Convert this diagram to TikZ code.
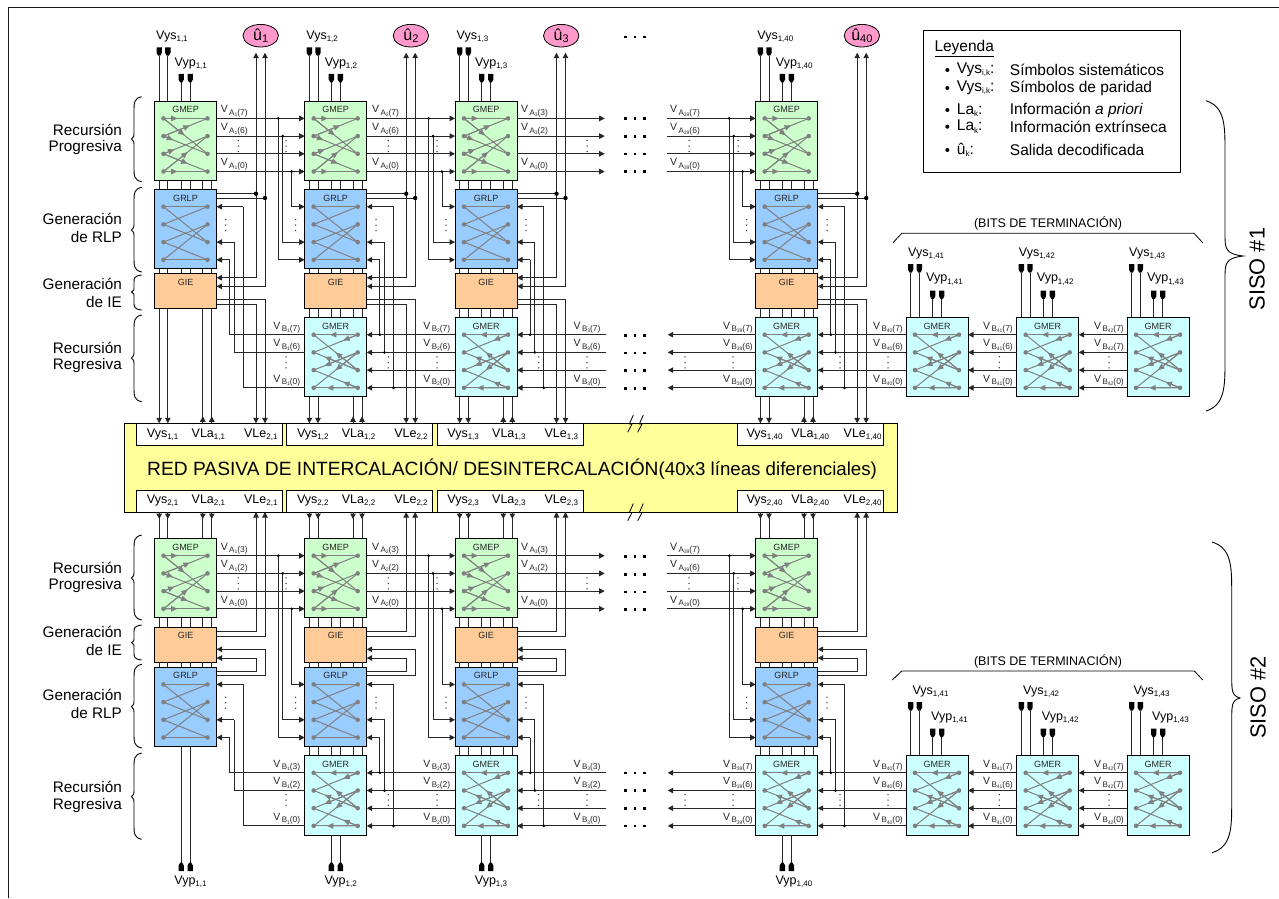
\documentclass[tikz,border=0pt]{standalone}
\usepackage{fontspec}
\setmainfont{Liberation Sans}
\usetikzlibrary{arrows.meta,calc,shapes.geometric}

\definecolor{verdeG}{HTML}{CCFFCC}
\definecolor{azulG}{HTML}{99CCFF}
\definecolor{naranjaG}{HTML}{FFCC99}
\definecolor{cianG}{HTML}{CCFFFF}
\definecolor{amarilloG}{HTML}{FFFF99}
\definecolor{rosaG}{HTML}{FF99CC}
\definecolor{grisG}{HTML}{808080}

\newcommand{\tam}[1]{\fontsize{#1}{#1}\selectfont}
\newcommand{\subi}[1]{\raisebox{-2.2pt}{\tam{8}#1}}
\newcommand{\vind}[3]{{\tam{10.5}V}\raisebox{-2.6pt}{\tam{8}\,#1\raisebox{-1.2pt}{\tam{5}#2}\tam{8.5}(#3)}}

\tikzset{
  caja/.style={draw=black,line width=.9pt,anchor=north west,inner sep=0pt,outer sep=0pt,minimum width=62pt},
  gmep/.style={fill=verdeG},
  grlp/.style={fill=azulG},
  giebox/.style={fill=naranjaG},
  gmer/.style={fill=cianG},
  titulo/.style={font=\tam{9},inner sep=0pt,text=black!85},
  cable/.style={line width=1pt,black!85},
  flecha/.style={-{Triangle[length=5.5pt,width=5.5pt]}},
  rama/.style={draw=grisG,line width=1pt},
  puntagris/.style={-{Triangle[length=6.5pt,width=5.5pt]}},
  texto/.style={font=\tam{12.5},inner sep=0pt,anchor=west},
  lateral/.style={font=\tam{15.3},inner sep=0pt,anchor=east},
  etiq/.style={inner sep=0pt,yshift=5.7pt,text=black!85},
  blanca/.style={draw=black,line width=.9pt,fill=white,anchor=north west,inner sep=0pt,outer sep=0pt,minimum width=146pt,minimum height=22pt},
  leyenda/.style={font=\tam{15.5},inner sep=0pt,anchor=west},
}

% caja con titulo y patillas
\newcommand{\caja}[6]{%
  \node[caja,#2,minimum height=#6pt] (#1) at (#4,#5) {};
  \node[titulo] (#1-tit) at (#4+31,#5+8.7) {#3};
  \foreach \i/\dx in {1/4.7,2/13.3,3/26.7,4/35.7,5/48.3,6/57.3}{
    \coordinate (#1-t\i) at (#4+\dx,#5);
    \coordinate (#1-d\i) at (#4+\dx,#5+#6);
  }}

% bloque de cuatro filas
\newcommand{\bloque}[5]{%
  \caja{#1}{#2}{#3}{#4}{#5}{79.6}
  \foreach \i/\dy in {1/17.4,2/35.1,3/52.8,4/70.5}{
    \coordinate (#1-e\i) at (#4,#5+\dy);
    \coordinate (#1-s\i) at (#4+62,#5+\dy);
    \coordinate (#1-a\i) at (#4+9,#5+\dy);
    \coordinate (#1-b\i) at (#4+53,#5+\dy);
    \fill[grisG] (#1-a\i) circle (2.3pt) (#1-b\i) circle (2.3pt);
  }
  \coordinate (#1-j1) at (#4-26.4,#5+17.4);
  \coordinate (#1-j2) at (#4-22,#5+35.1);
  \coordinate (#1-j4) at (#4-13,#5+70.5);
  \coordinate (#1-k1) at (#4+88.8,#5+17.4);
  \coordinate (#1-k3) at (#4+79.8,#5+52.8);
  \coordinate (#1-k4) at (#4+75.2,#5+70.5);
  \coordinate (#1-h1) at (#4+62,#5+4.4);
  \coordinate (#1-h2) at (#4+62,#5+8.7);
}

\newcommand{\ramasP}[1]{\foreach \p/\q/\f in {1/1/.32,1/3/.48,2/1/.6,2/3/.22,3/2/.25,3/4/.55,4/2/.55,4/4/.32}{
    \draw[rama] (#1-a\p) -- (#1-b\q);
    \draw[rama,puntagris] (#1-a\p) -- ($(#1-a\p)!\f!(#1-b\q)$);
  }}
\newcommand{\ramasL}[1]{\foreach \p/\q in {1/1,1/3,2/1,2/3,3/2,3/4,4/2,4/4}{
    \draw[rama] (#1-a\p) -- (#1-b\q);
  }}
\newcommand{\ramasR}[1]{\foreach \p/\q/\f in {1/1/.63,1/3/.5,2/1/.33,2/3/.75,3/2/.75,3/4/.33,4/2/.5,4/4/.7}{
    \draw[rama] (#1-a\p) -- (#1-b\q);
    \draw[rama,puntagris] (#1-b\q) -- ($(#1-b\q)!\f!(#1-a\p)$);
  }}

% tres etiquetas de una columna
\newcommand{\etiqs}[8]{%
  \node[etiq,anchor=base #5] (#1-#2#3-v1) at (#4,0 |- #1-e1) {\vind{#2}{#3}{#6}};
  \node[etiq,anchor=base #5] (#1-#2#3-v2) at (#4,0 |- #1-e2) {\vind{#2}{#3}{#7}};
  \node[etiq,anchor=base #5] (#1-#2#3-v4) at (#4,0 |- #1-e4) {\vind{#2}{#3}{#8}};
}

% puntos suspensivos y conectores
\newcommand{\vpts}[2]{\foreach \k in {-5.5,0,5.5}{\fill[black!80] (#1,#2+\k) circle (.75pt);}}
\newcommand{\hpts}[1]{\foreach \k in {625.7,635,644.3}{\fill (\k-1.3,#1-1.3) rectangle (\k+1.3,#1+1.3);}}
\newcommand{\clavija}[1]{\fill (#1) ++(-2.7,-8.4) -- ++(5.4,0) -- ++(0,5.6) -- ++(-1.6,2.8) -- ++(-2.2,0) -- ++(-1.6,-2.8) -- cycle;}
\newcommand{\clavijaB}[1]{\fill (#1) ++(-1.1,0) -- ++(2.2,0) -- ++(1.6,2.8) -- ++(0,5.6) -- ++(-5.4,0) -- ++(0,-5.6) -- cycle;}
\newcommand{\llave}[8]{\draw[line width=.9pt] (#1,#4) .. controls (#2,#4+.12*#7) and (#2,#4+.5*#7) .. (#2,#4+#7) -- (#2,#5-#8)
  .. controls (#2,#5-.35*#8) and (#2,#5-.1*#8) .. (#3,#5) .. controls (#2,#5+.1*#8) and (#2,#5+.35*#8) .. (#2,#5+#8)
  -- (#2,#6-#7) .. controls (#2,#6-.5*#7) and (#2,#6-.12*#7) .. (#1,#6);}

\begin{document}
\begin{tikzpicture}[x=1pt,y=-1pt]
\useasboundingbox (0,0) rectangle (1279,898);

% Marco
\draw[black!90,line width=1pt] (8,898) -- (8,7.5) -- (1279,7.5);

% Red de intercalacion
\node[caja,fill=amarilloG,minimum width=773.3pt,minimum height=88.7pt] (bus) at (124,423.3) {};
\node[inner sep=0pt,anchor=base west,font=\tam{19.2}] (bustxt) at (147,475) {RED PASIVA DE INTERCALACIÓN/ DESINTERCALACIÓN};
\node[inner sep=0pt,anchor=base west,font=\tam{18.7}] (bustxtb) at (658.5,475) {(40x3 líneas diferenciales)};
\foreach \col/\x/\desp/\idx in {1/154.5/0/2,2/304.7/0/2,3/455/0/1,40/755.7/1.6/1}{
  \node[blanca] (arr-\col) at (\x-17.8,423.3) {};
  \node[blanca] (aba-\col) at (\x-17.8,490) {};
  \node[texto] (vys-a-\col) at (\x-7.8-\desp,435) {Vys\subi{1,\col}};
  \node[texto] (vla-a-\col) at (\x+37-\desp,435) {VLa\subi{1,\col}};
  \node[texto] (vle-a-\col) at (\x+89.4-\desp,435) {VLe\subi{\idx,\col}};
  \node[texto] (vys-b-\col) at (\x-7.8-\desp,501) {Vys\subi{2,\col}};
  \node[texto] (vla-b-\col) at (\x+37-\desp,501) {VLa\subi{2,\col}};
  \node[texto] (vle-b-\col) at (\x+89.4-\desp,501) {VLe\subi{2,\col}};
}
\foreach \x in {633.3,643.3}{
  \foreach \y in {415,503.5}{
    \draw[line width=.8pt] (\x,\y) -- (\x-4,\y+9) -- (\x-1.3,\y+9) -- (\x-5.6,\y+17.3);
  }
}

% Bloques SISO 1
\foreach \col/\x in {1/154.5,2/304.7,3/455,40/755.7}{
  \bloque{gmep-1-\col}{gmep}{GMEP}{\x}{101}
  \ramasP{gmep-1-\col}
  \bloque{grlp-1-\col}{grlp}{GRLP}{\x}{189.3}
  \ramasL{grlp-1-\col}
  \caja{gie-1-\col}{giebox}{GIE}{\x}{273.3}{35.4}
  \foreach \i/\dy in {1/4.4,2/13,3/26.4,4/30.8}{\coordinate (gie-1-\col-p\i) at (\x+62,273.3+\dy);}
  \coordinate (u-\col-a) at (\x+101.5,52.7);
  \coordinate (u-\col-b) at (\x+110.5,52.7);
  \foreach \i in {1,...,6}{
    \draw[cable] (gmep-1-\col-d\i) -- (grlp-1-\col-t\i);
    \draw[cable] (grlp-1-\col-d\i) -- (gie-1-\col-t\i);
  }
}
\foreach \col/\x in {2/304.7,3/455,40/755.7}{
  \bloque{gmer-1-\col}{gmer}{GMER}{\x}{317.3}
  \ramasR{gmer-1-\col}
  \foreach \i in {1,...,6}{\draw[cable] (gie-1-\col-d\i) -- (gmer-1-\col-t\i);}
}

% Bloques SISO 2
\foreach \col/\x in {1/154.5,2/304.7,3/455,40/755.7}{
  \bloque{gmep-2-\col}{gmep}{GMEP}{\x}{538.3}
  \ramasP{gmep-2-\col}
  \caja{gie-2-\col}{giebox}{GIE}{\x}{627}{35.4}
  \foreach \i/\dy in {1/4,2/9,3/22.3,4/31}{\coordinate (gie-2-\col-p\i) at (\x+62,627+\dy);}
  \bloque{grlp-2-\col}{grlp}{GRLP}{\x}{667}
  \ramasL{grlp-2-\col}
  \foreach \i in {1,...,6}{
    \draw[cable] (gmep-2-\col-d\i) -- (gie-2-\col-t\i);
    \draw[cable] (gie-2-\col-d\i) -- (grlp-2-\col-t\i);
  }
}
\foreach \col/\x in {2/304.7,3/455,40/755.7}{
  \bloque{gmer-2-\col}{gmer}{GMER}{\x}{755.4}
  \ramasR{gmer-2-\col}
  \foreach \i in {1,...,6}{\draw[cable] (grlp-2-\col-d\i) -- (gmer-2-\col-t\i);}
}

% Bits de terminacion
\foreach \s/\ye/\da/\db in {1/317.3/2/20,2/755.4/6.3/25}{
  \foreach \col/\x in {41/906,42/1016.7,43/1127}{
    \bloque{gmer-\s-\col}{gmer}{GMER}{\x}{\ye}
    \ramasR{gmer-\s-\col}
    \node[texto] (vys-\s-\col) at (\x+\da,\ye-63.5) {Vys\subi{1,\col}};
    \node[texto] (vyp-\s-\col) at (\x+\db,\ye-38) {Vyp\subi{1,\col}};
    \coordinate (pv-\s-\col-1) at (\x+4.7,\ye-44.8);
    \coordinate (pv-\s-\col-2) at (\x+13.3,\ye-44.8);
    \coordinate (pv-\s-\col-3) at (\x+26.7,\ye-18.3);
    \coordinate (pv-\s-\col-4) at (\x+35.7,\ye-18.3);
    \foreach \i in {1,...,4}{
      \draw[cable] (pv-\s-\col-\i) -- (gmer-\s-\col-t\i);
      \clavija{pv-\s-\col-\i}
    }
  }
}
\draw[line width=.8pt] (893,242.7) -- (901.7,233.3) -- (1194,233.3) -- (1202.7,242.7);
\node[inner sep=0pt,font=\tam{12.5}] (bits-1) at (1048,223) {(BITS DE TERMINACIÓN)};
\draw[line width=.8pt] (892.3,680) -- (901.7,671) -- (1194.3,671) -- (1202.7,680);
\node[inner sep=0pt,font=\tam{12.5}] (bits-2) at (1048,661.7) {(BITS DE TERMINACIÓN)};

% Cables horizontales y bajadas
\foreach \s in {1,2}{
  \foreach \ant/\sig in {1/2,2/3}{
    \foreach \i in {1,...,4}{\draw[cable,flecha] (gmep-\s-\ant-s\i) -- (gmep-\s-\sig-e\i);}
  }
  \foreach \i in {1,...,4}{
    \draw[cable,flecha] (gmep-\s-3-s\i) -- (604.7,0 |- gmep-\s-3-s\i);
    \draw[cable,flecha] (667.3,0 |- gmep-\s-40-e\i) -- (gmep-\s-40-e\i);
    \draw[cable,flecha] (605.7,0 |- gmer-\s-3-s\i) -- (gmer-\s-3-s\i);
    \draw[cable,flecha] (gmer-\s-40-e\i) -- (667.7,0 |- gmer-\s-40-e\i);
  }
  \foreach \ant/\sig in {2/3,40/41,41/42,42/43}{
    \foreach \i in {1,...,4}{\draw[cable,flecha] (gmer-\s-\sig-e\i) -- (gmer-\s-\ant-s\i);}
  }
  % entradas de GRLP desde GMEP
  \foreach \col in {2,3,40}{
    \draw[cable,flecha] (gmep-\s-\col-j1) |- (grlp-\s-\col-e4);
    \draw[cable,flecha] (gmep-\s-\col-j2) |- (grlp-\s-\col-e3);
    \draw[cable,flecha] (gmep-\s-\col-j4) |- (grlp-\s-\col-e1);
    \fill (gmep-\s-\col-j1) circle (1.5pt) (gmep-\s-\col-j2) circle (1.5pt) (gmep-\s-\col-j4) circle (1.5pt);
  }
  % entradas de GRLP desde GMER
  \foreach \col in {1,2,3,40}{
    \draw[cable,flecha] (grlp-\s-\col-k1) -- (grlp-\s-\col-s1);
    \draw[cable,flecha] (grlp-\s-\col-k3) -- (grlp-\s-\col-s3);
    \draw[cable,flecha] (grlp-\s-\col-k4) -- (grlp-\s-\col-s4);
  }
  \draw[cable] (gmer-\s-2-e1) -| (grlp-\s-1-k4);
  \draw[cable] (gmer-\s-2-e2) -| (grlp-\s-1-k3);
  \draw[cable] (gmer-\s-2-e4) -| (grlp-\s-1-k1);
  \foreach \col in {2,3,40}{
    \draw[cable] (grlp-\s-\col-k4) -- (grlp-\s-\col-k4 |- gmer-\s-\col-s1);
    \draw[cable] (grlp-\s-\col-k3) -- (grlp-\s-\col-k3 |- gmer-\s-\col-s2);
    \draw[cable] (grlp-\s-\col-k1) -- (grlp-\s-\col-k1 |- gmer-\s-\col-s4);
    \fill (grlp-\s-\col-k4 |- gmer-\s-\col-s1) circle (1.5pt);
    \fill (grlp-\s-\col-k3 |- gmer-\s-\col-s2) circle (1.5pt);
    \fill (grlp-\s-\col-k1 |- gmer-\s-\col-s4) circle (1.5pt);
  }
}

% Salidas y entradas del SISO 1
\foreach \col/\x/\fuente in {1/154.5/gie,2/304.7/gmer,3/455/gmer,40/755.7/gmer}{
  \draw[cable] (grlp-1-\col-h1) -- (u-\col-a |- grlp-1-\col-h1);
  \draw[cable] (grlp-1-\col-h2) -- (u-\col-b |- grlp-1-\col-h2);
  \draw[cable,flecha] (u-\col-a |- grlp-1-\col-h1) -- (u-\col-a);
  \draw[cable,flecha] (u-\col-b |- grlp-1-\col-h2) -- (u-\col-b);
  \draw[cable,flecha] (u-\col-a |- grlp-1-\col-h1) |- (gie-1-\col-p1);
  \draw[cable,flecha] (u-\col-b |- grlp-1-\col-h2) |- (gie-1-\col-p2);
  \fill (u-\col-a |- grlp-1-\col-h1) circle (2.2pt) (u-\col-b |- grlp-1-\col-h2) circle (2.2pt);
  \draw[cable,flecha] (gie-1-\col-p3) -| (u-\col-b |- bus.north);
  \draw[cable,flecha] (gie-1-\col-p4) -| (u-\col-a |- bus.north);
  \draw[cable,flecha] (\fuente-1-\col-d1) -- (\fuente-1-\col-d1 |- bus.north);
  \draw[cable,flecha] (\fuente-1-\col-d2) -- (\fuente-1-\col-d2 |- bus.north);
  \draw[cable] (\fuente-1-\col-d5) -- (\fuente-1-\col-d5 |- bus.north);
  \draw[cable] (\fuente-1-\col-d6) -- (\fuente-1-\col-d6 |- bus.north);
  \draw[cable,flecha] (\fuente-1-\col-d5 |- bus.north) -- ++(0,-7);
  \draw[cable,flecha] (\fuente-1-\col-d6 |- bus.north) -- ++(0,-7);
  % entradas superiores
  \coordinate (pv-\col-1) at (\x+4.7,55.7);
  \coordinate (pv-\col-2) at (\x+13.3,55.7);
  \coordinate (pv-\col-3) at (\x+26.7,82.3);
  \coordinate (pv-\col-4) at (\x+35.7,82.3);
  \foreach \i in {1,...,4}{
    \draw[cable] (pv-\col-\i) -- (gmep-1-\col-t\i);
    \clavija{pv-\col-\i}
  }
  \node[texto] (vys-sup-\col) at (\x+1.5,36.7) {Vys\subi{1,\col}};
  \node[texto] (vyp-sup-\col) at (\x+20,64) {Vyp\subi{1,\col}};
  \node[draw=black,line width=.8pt,fill=rosaG,shape=ellipse,inner sep=0pt,minimum width=35.4pt,minimum height=22.6pt] (uhat-\col) at (\x+106.2,35.7) {\tam{16}û\raisebox{-2.5pt}{\tam{11}\col}};
}

% Salidas y entradas del SISO 2
\foreach \col/\x/\fuente in {1/154.5/grlp,2/304.7/gmer,3/455/gmer,40/755.7/gmer}{
  \draw[cable,flecha] (gie-2-\col-p1) -| (u-\col-a |- bus.south);
  \draw[cable,flecha] (gie-2-\col-p2) -| (u-\col-b |- bus.south);
  \draw[cable,flecha] (grlp-2-\col-h1) -| (u-\col-a |- gie-2-\col-p4) -- (gie-2-\col-p4);
  \draw[cable,flecha] (grlp-2-\col-h2) -| (u-\col-b |- gie-2-\col-p3) -- (gie-2-\col-p3);
  \foreach \i in {1,2,5,6}{
    \draw[cable] (gmep-2-\col-t\i |- bus.south) -- (gmep-2-\col-t\i);
    \draw[cable,flecha] (gmep-2-\col-t\i |- bus.south) -- ++(0,7);
  }
  % salidas inferiores
  \coordinate (pw-\col-3) at (\x+26.7,862.7);
  \coordinate (pw-\col-4) at (\x+35.7,862.7);
  \foreach \i in {3,4}{
    \draw[cable] (\fuente-2-\col-d\i) -- (pw-\col-\i);
    \clavijaB{pw-\col-\i}
  }
  \node[texto] (vyp-inf-\col) at (\x+19.7,881.7) {Vyp\subi{1,\col}};
}

% Etiquetas de los cables
\etiqs{gmep-1-1}{A}{1}{220.7}{west}{7}{6}{0}
\etiqs{gmep-1-2}{A}{2}{372}{west}{7}{6}{0}
\etiqs{gmep-1-3}{A}{3}{521}{west}{3}{2}{0}
\etiqs{gmep-1-40}{A}{39}{670}{west}{7}{6}{0}
\etiqs{gmep-2-1}{A}{1}{220.7}{west}{3}{2}{0}
\etiqs{gmep-2-2}{A}{2}{372}{west}{3}{2}{0}
\etiqs{gmep-2-3}{A}{3}{521}{west}{3}{2}{0}
\etiqs{gmep-2-40}{A}{39}{670}{west}{7}{6}{0}
\etiqs{gmer-1-2}{B}{1}{300.5}{east}{7}{6}{0}
\etiqs{gmer-1-3}{B}{2}{450.5}{east}{7}{6}{0}
\etiqs{gmer-1-3}{B}{3}{600.7}{east}{7}{6}{0}
\etiqs{gmer-1-40}{B}{39}{753}{east}{7}{6}{0}
\etiqs{gmer-1-41}{B}{40}{903}{east}{7}{6}{0}
\etiqs{gmer-1-42}{B}{41}{1013}{east}{7}{6}{0}
\etiqs{gmer-1-43}{B}{42}{1124}{east}{7}{7}{0}
\etiqs{gmer-2-2}{B}{1}{300.5}{east}{3}{2}{0}
\etiqs{gmer-2-3}{B}{2}{450.5}{east}{3}{2}{0}
\etiqs{gmer-2-3}{B}{3}{600.7}{east}{3}{2}{0}
\etiqs{gmer-2-40}{B}{39}{753}{east}{7}{6}{0}
\etiqs{gmer-2-41}{B}{40}{903}{east}{7}{6}{0}
\etiqs{gmer-2-42}{B}{41}{1013}{east}{7}{6}{0}
\etiqs{gmer-2-43}{B}{42}{1124}{east}{7}{7}{0}

% Puntos suspensivos
\foreach \x in {238.3,286,388.3,437,587,689,738}{\vpts{\x}{146}\vpts{\x}{583.3}}
\foreach \x in {225.7,295.7,376,446,526,746.7,827}{\vpts{\x}{225}\vpts{\x}{702.7}}
\foreach \x in {286,388.3,437,538.7,587,685,733,840,888,999.3,1109}{\vpts{\x}{362.3}\vpts{\x}{800}}
\foreach \y in {37,118.5,136.2,154,171.6,335.3,353,370.7,388.3,556.5,574.2,592,609.5,773,790.7,808.3,826}{\hpts{\y}}

% Nombres de las etapas
\foreach \y/\txt in {130/Recursión,148/Progresiva,219/Generación,237/de RLP,284/Generación,302/de IE,348/Recursión,366/Regresiva,568/Recursión,586/Progresiva,632/Generación,650/de IE,695/Generación,713/de RLP,787/Recursión,806/Regresiva}{
  \node[lateral] (etapa-\y) at (122,\y) {\txt};
}

% Llaves
\foreach \a/\b/\c in {96.7/139/181.7,187.3/230/272,315/358/401.7,535/578/620,664.3/706.7/748,753/796.7/839.3}{
  \llave{141.7}{134}{131.5}{\a}{\b}{\c}{13}{9}
}
\foreach \a/\b/\c in {275/292/310,625/642.7/660}{
  \llave{141.7}{134}{131.5}{\a}{\b}{\c}{7}{6}
}
\llave{1206}{1225}{1243}{100.7}{256}{411}{50}{22}
\llave{1212}{1231.7}{1240}{542}{698}{852.7}{50}{22}
\node[rotate=90,inner sep=0pt,font=\tam{21.8}] (siso-1) at (1257,269) {SISO \#1};
\node[rotate=90,inner sep=0pt,font=\tam{21.8}] (siso-2) at (1258,697.7) {SISO \#2};

% Leyenda
\node[caja,fill=white,minimum width=256.6pt,minimum height=142pt] (ley) at (923.7,30) {};
\node[leyenda] (ley-tit) at (934.3,48.3) {\underline{Leyenda}};
\foreach \fila/\y/\simb/\desc in {1/70/{Vys\subi{i,k}:}/{Símbolos sistemáticos},2/88/{Vys\subi{i,k}:}/{Símbolos de paridad},3/110/{La\subi{k}:}/{Información \textit{a priori}},4/126.7/{La\subi{k}:}/{Información extrínseca},5/150/{û\subi{k}:}/{Salida decodificada}}{
  \fill (947.3,\y) circle (2pt);
  \node[leyenda] (ley-s\fila) at (956.7,\y) {\simb};
  \node[leyenda] (ley-d\fila) at (1009.7,\y) {\desc};
}

\end{tikzpicture}
\end{document}
